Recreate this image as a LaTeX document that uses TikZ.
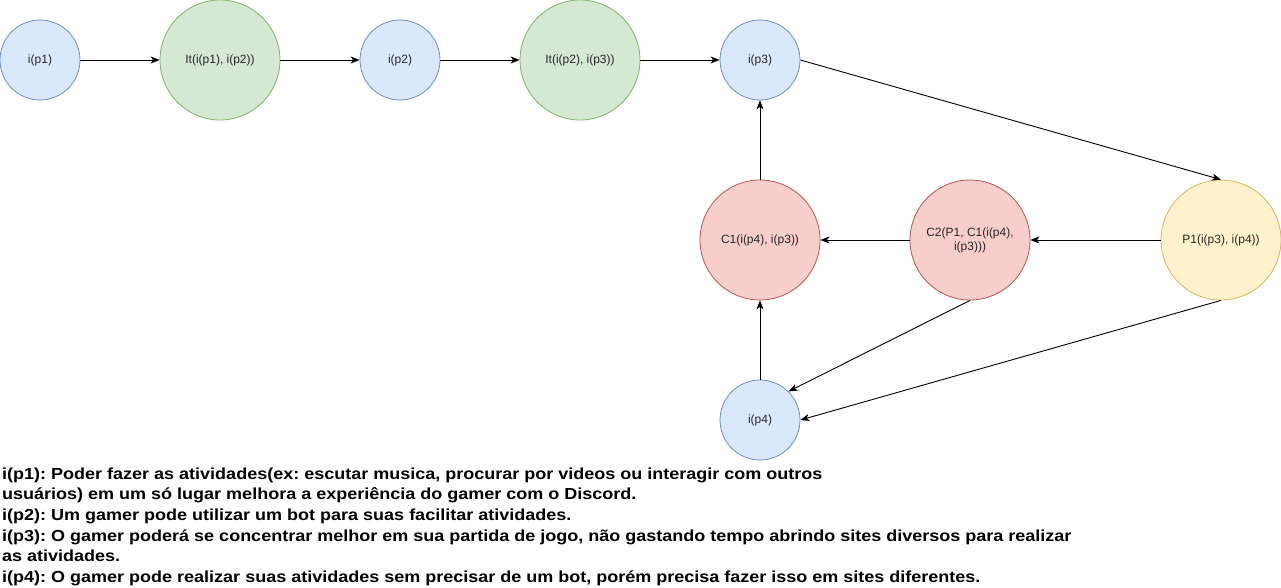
\documentclass[tikz,border=0pt]{standalone}
\usepackage{fontspec}
\setmainfont{Liberation Sans}
\newfontfamily\legendfont[FakeStretch=1.125]{Liberation Sans}
\usetikzlibrary{arrows.meta}
\definecolor{bfill}{HTML}{DAE8FC}\definecolor{bdraw}{HTML}{6C8EBF}
\definecolor{gfill}{HTML}{D5E8D4}\definecolor{gdraw}{HTML}{82B366}
\definecolor{rfill}{HTML}{F8CECC}\definecolor{rdraw}{HTML}{B85450}
\definecolor{yfill}{HTML}{FFF2CC}\definecolor{ydraw}{HTML}{D6B656}
\tikzset{
  circ/.style={circle, inner sep=0pt, line width=0.8pt, align=center,
    font=\fontsize{12}{14}\selectfont, text=black!85},
  small/.style={circ, minimum size=80pt, fill=bfill, draw=bdraw},
  bigg/.style={circ, minimum size=120pt, fill=gfill, draw=gdraw},
  bigr/.style={circ, minimum size=120pt, fill=rfill, draw=rdraw},
  bigy/.style={circ, minimum size=120pt, fill=yfill, draw=ydraw},
  conn/.style={-{Stealth[length=9pt,width=7pt,inset=2.5pt]}, line width=0.9pt, black},
  legend/.style={anchor=base west, inner sep=0pt, font=\frenchspacing\legendfont\fontsize{16}{20}\selectfont\bfseries}
}
\begin{document}
\begin{tikzpicture}[x=1pt,y=-1pt]
\useasboundingbox (0,0) rectangle (1281,588);
\node[small] (p1) at (40,60) {i(p1)};
\node[bigg] (it1) at (220,60) {It(i(p1), i(p2))};
\node[small] (p2) at (400,60) {i(p2)};
\node[bigg] (it2) at (580,60) {It(i(p2), i(p3))};
\node[small] (p3) at (760,60) {i(p3)};
\node[bigy] (P1) at (1221,240) {P1(i(p3), i(p4))};
\node[bigr] (C2) at (970,240) {C2(P1, C1(i(p4),\\i(p3)))};
\node[bigr] (C1) at (760,240) {C1(i(p4), i(p3))};
\node[small] (p4) at (760,420) {i(p4)};

\draw[conn] (p1) -- (it1);
\draw[conn] (it1) -- (p2);
\draw[conn] (p2) -- (it2);
\draw[conn] (it2) -- (p3);
\draw[conn] (p3.east) -- (P1.north);
\draw[conn] (P1) -- (C2);
\draw[conn] (C2) -- (C1);
\draw[conn] (C1) -- (p3);
\draw[conn] (p4) -- (C1);
\draw[conn] (C2.south) -- (p4.45);
\draw[conn] (P1.south) -- (p4.east);

\node[legend] (l1) at (2,479) {i(p1): Poder fazer as atividades(ex: escutar musica, procurar por videos ou interagir com outros};
\node[legend] (l2) at (2,499.7) {usuários) em um só lugar melhora a experiência do gamer com o Discord.};
\node[legend] (l3) at (2,520.4) {i(p2): Um gamer pode utilizar um bot para suas facilitar atividades.};
\node[legend] (l4) at (2,541.1) {i(p3): O gamer poderá se concentrar melhor em sua partida de jogo, não gastando tempo abrindo sites diversos para realizar};
\node[legend] (l5) at (2,561.8) {as atividades.};
\node[legend] (l6) at (2,582.5) {i(p4): O gamer pode realizar suas atividades sem precisar de um bot, porém precisa fazer isso em sites diferentes.};
\end{tikzpicture}
\end{document}
